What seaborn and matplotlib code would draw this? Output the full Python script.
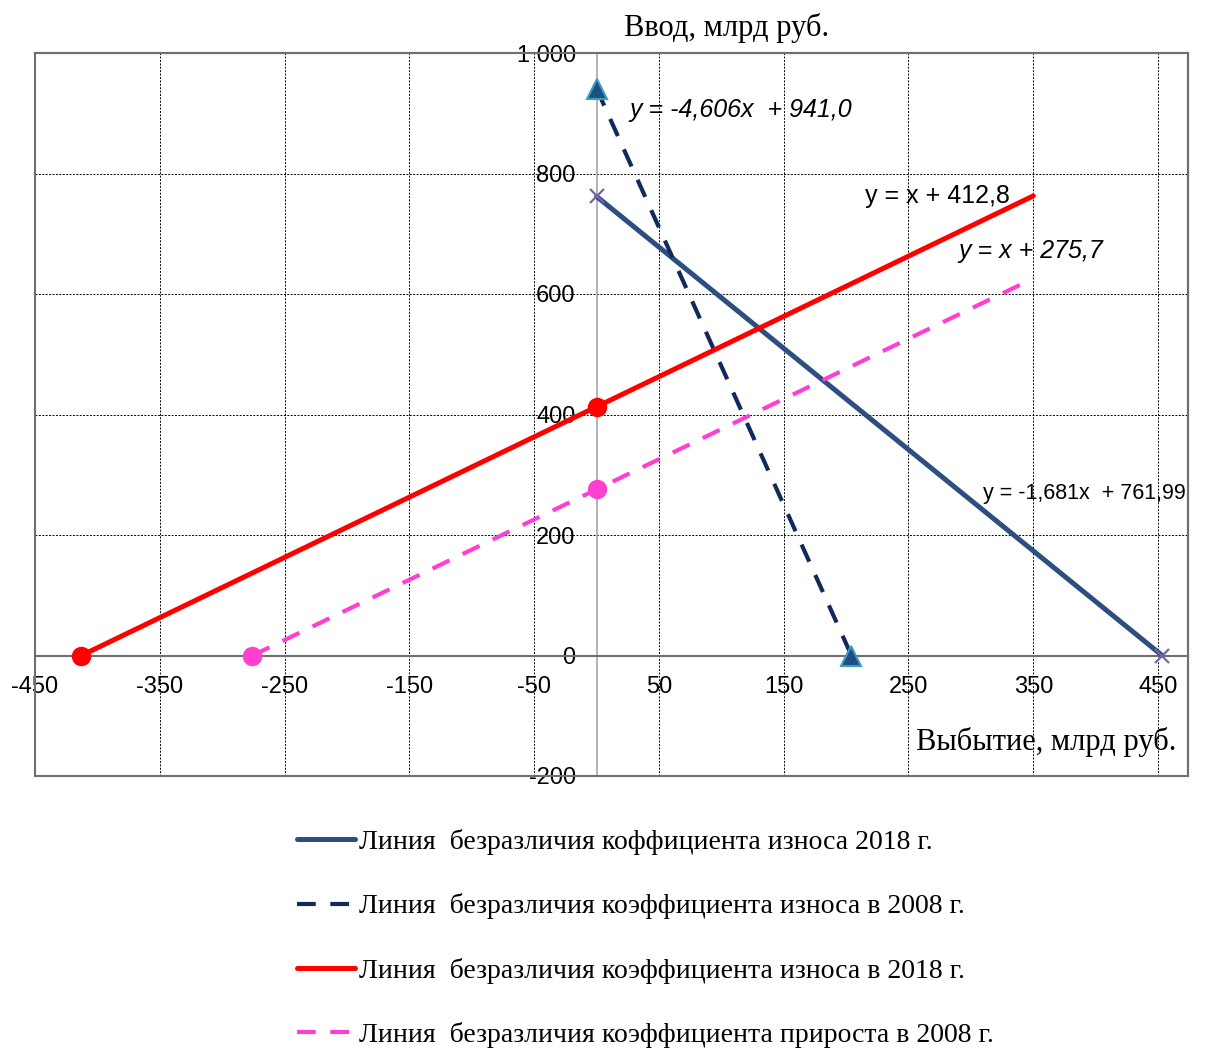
import matplotlib
matplotlib.use("Agg")
import matplotlib.pyplot as plt
import seaborn as sns
import pandas as pd
from matplotlib.lines import Line2D
from matplotlib.patches import Rectangle

# ---- data ----
labels = [
    "Линия  безразличия коффициента износа 2018 г.",
    "Линия  безразличия коэффициента износа в 2008 г.",
    "Линия  безразличия коэффициента износа в 2018 г.",
    "Линия  безразличия коэффициента прироста в 2008 г.",
]
# 2018 wear line (solid dark blue)
x_w2018 = [0.0, 453.3]
y_w2018 = [761.99, 0.0]
# 2008 wear line (dashed navy)
x_w2008 = [0.0, 204.3]
y_w2008 = [941.0, 0.0]
# 2018 wear line red
x_r2018 = [-412.8, 0.0, 350.0]
y_r2018 = [0.0, 412.8, 762.8]
mk_r2018 = 2  # first two points carry markers
# 2008 growth line (dashed pink)
x_p2008 = [-275.7, 0.0, 350.0]
y_p2008 = [0.0, 275.7, 625.7]
mk_p2008 = 2

equations = ["y = -4,606x  + 941,0", "y = x + 412,8", "y = x + 275,7", "y = -1,681x  + 761,99"]

x_ticks = [-450, -350, -250, -150, -50, 50, 150, 250, 350, 450]
y_ticks = [-200, 0, 200, 400, 600, 800, 1000]
y_ticklabels = ["-200", "0", "200", "400", "600", "800", "1 000"]

c_blue = "#2c4f80"
c_navy = "#12295c"
c_red = "#ff0000"
c_pink = "#ff3fd2"

sns.set_theme(style="white")
plt.rcParams["font.family"] = ["Liberation Sans", "DejaVu Sans"]
plt.rcParams["axes.unicode_minus"] = False
plt.rcParams["text.color"] = "black"

fig = plt.figure(figsize=(12.16, 10.53), dpi=100)
ax = fig.add_axes([35 / 1216, 1 - 776 / 1053, (1188 - 35) / 1216, (776 - 53) / 1053])
ax.set_xlim(-450, 474)
ax.set_ylim(-200, 1000)

# grid
ax.set_xticks(x_ticks)
ax.set_xticklabels([str(v) for v in x_ticks])
ax.set_yticks(y_ticks)
ax.set_yticklabels(y_ticklabels)
ax.grid(True, color="black", linestyle=(0, (2, 1.5)), linewidth=0.7)
ax.set_axisbelow(True)

# axes through zero, frame around
for s in ["left", "bottom"]:
    ax.spines[s].set_position(("data", 0))
ax.spines["left"].set_color("#a6a6a6")
ax.spines["left"].set_linewidth(1.2)
ax.spines["bottom"].set_color("#6f6f6f")
ax.spines["bottom"].set_linewidth(1.5)
for s in ["top", "right"]:
    ax.spines[s].set_color("#6f6f6f")
    ax.spines[s].set_linewidth(1.5)
ax.add_patch(Rectangle((0, 0), 1, 1, transform=ax.transAxes, fill=False,
                       ec="#6f6f6f", lw=1.5, clip_on=False, zorder=3))
ax.tick_params(axis="both", length=0, labelsize=17, colors="black", labelcolor="black")
ax.tick_params(axis="x", pad=15)
ax.tick_params(axis="y", pad=15)

# lines
def df(x, y):
    return pd.DataFrame({"x": x, "y": y})

dash = (0, (4.5, 3.5))
sns.lineplot(data=df(x_w2018, y_w2018), x="x", y="y", ax=ax, color=c_blue, lw=3.6,
             sort=False, estimator=None, zorder=4)
sns.lineplot(data=df(x_w2008, y_w2008), x="x", y="y", ax=ax, color=c_navy, lw=3.0,
             sort=False, estimator=None, zorder=4, linestyle=dash)
sns.lineplot(data=df(x_r2018, y_r2018), x="x", y="y", ax=ax, color=c_red, lw=3.6,
             sort=False, estimator=None, zorder=4)
sns.lineplot(data=df(x_p2008, y_p2008), x="x", y="y", ax=ax, color=c_pink, lw=3.0,
             sort=False, estimator=None, zorder=4, linestyle=dash)

# markers
ax.plot(x_w2018, y_w2018, ls="none", marker="x", ms=10, mew=1.6, color="#7b62a6", zorder=5)
ax.plot(x_w2008, y_w2008, ls="none", marker="^", ms=14, mfc="#1f4e85", mec="#3f9cc0",
        mew=1.5, zorder=5)
ax.plot(x_r2018[:mk_r2018], y_r2018[:mk_r2018], ls="none", marker="o", ms=13,
        color=c_red, zorder=5)
ax.plot(x_p2008[:mk_p2008], y_p2008[:mk_p2008], ls="none", marker="o", ms=13,
        color=c_pink, zorder=5)

# equations
eq_kw = dict(va="center", ha="left", zorder=6, color="black")
ax.text(26, 906, equations[0], style="italic", fontsize=18, **eq_kw)
ax.text(215, 762, equations[1], fontsize=18, **eq_kw)
ax.text(290, 672, equations[2], style="italic", fontsize=18, **eq_kw)
ax.text(310, 269, equations[3], fontsize=15.5, **eq_kw)

# axis titles
serif = ["Liberation Serif", "DejaVu Serif"]
fig.text(727 / 1216, 1 - 28 / 1053, "Ввод, млрд руб.", family=serif, fontsize=22,
         ha="center", va="center", color="black")
fig.text(1176 / 1216, 1 - 742 / 1053, "Выбытие, млрд руб.", family=serif, fontsize=22,
         ha="right", va="center", color="black")

ax.set_xlabel("")
ax.set_ylabel("")

handles = [
    Line2D([], [], color=c_blue, lw=3.6),
    Line2D([], [], color=c_navy, lw=3.0, linestyle=dash),
    Line2D([], [], color=c_red, lw=3.6),
    Line2D([], [], color=c_pink, lw=3.0, linestyle=dash),
]
leg = fig.legend(handles, labels, loc="upper left", bbox_to_anchor=(297 / 1216, 1 - 829 / 1053),
                 frameon=False, prop={"family": serif, "size": 20}, handlelength=2.1,
                 handletextpad=0.12, labelspacing=1.38, borderpad=0, borderaxespad=0)
for t in leg.get_texts():
    t.set_color("black")

fig.savefig("out.png", dpi=100)
